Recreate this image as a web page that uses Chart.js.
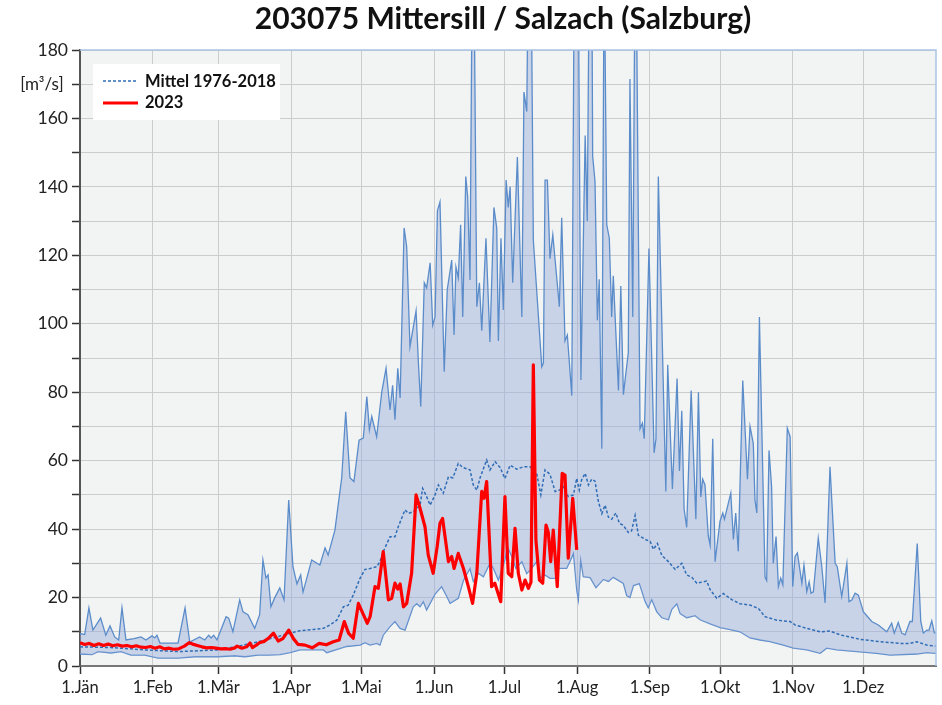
<!DOCTYPE html>
<html>
<head>
<meta charset="utf-8">
<script src="https://cdn.jsdelivr.net/npm/chart.js@4.4.1/dist/chart.umd.min.js"></script>
<style>
  html, body { margin: 0; background: #fff; }
</style>
</head>
<body>
<canvas id="chart" width="942" height="705"></canvas>
<script>
// day of year -> discharge [m3/s]
const monthDays = [0, 31, 59, 90, 120, 151, 181, 212, 243, 273, 304, 334]
const monthLabels = ['1.Jän', '1.Feb', '1.Mär', '1.Apr', '1.Mai', '1.Jun', '1.Jul', '1.Aug', '1.Sep', '1.Okt', '1.Nov', '1.Dez']

const maxQ = [
  [0,9.5],[2,9.2],[3.8,17],[5.5,10.5],[8.8,14],[11,9],[12.8,11.7],[14.8,8.5],[16.5,7.6],[17.9,17],[19.6,7.6],[23,8],
  [26,8.5],[28.1,7.6],[30.7,8.8],[31.9,8.2],[32.8,9],[34.1,6.7],[41.8,6.7],[44.8,17],[46.8,7],[51,8.5],[53.2,7.6],
  [54.9,9],[55.9,8.2],[57,9],[58.4,7.6],[62.3,14.4],[63.4,14],[65.2,10],[68.1,19.3],[69.5,15.8],[71.6,15],[74.5,11],
  [76.6,15],[78,31],[79.3,25.7],[80.2,26.6],[81.4,17.3],[83,19.9],[85.2,22.8],[87,19.3],[89,48.5],[90.8,29],[92.5,24],
  [94.1,26.6],[95.1,21.6],[98.8,31],[102.3,29.5],[104.5,34.5],[105.8,32.4],[108.7,39.7],[111.6,55],[113.3,74.3],
  [115.1,55],[116.8,53.9],[119,66],[120.8,66.6],[122.3,78.7],[123.4,69],[124.4,72.9],[126.5,67],[128.7,80.2],
  [130.5,87],[132.2,74.8],[133.3,82],[134.3,72],[135.5,87],[136.5,78.3],[138.2,128],[139.3,122.5],[140.7,93.3],
  [143.3,103.8],[144.3,88.5],[145.3,75.8],[146.8,112],[147.8,110.5],[149.3,117.8],[150.4,99.6],[151.4,102],
  [152.4,133],[153.5,135.6],[155.3,86],[156.6,110],[158.5,118.6],[159.5,96.7],[160.3,116.6],[161.3,113.4],
  [162.3,128.9],[163.2,102],[164.5,143],[165.3,137],[166.3,112.8],[167.3,210],[167.9,210],[169.2,105],[170.3,112],
  [171.3,98],[173.1,125],[174.8,94.7],[176.5,134],[177.7,128],[178.4,95],[179.5,125],[180.5,104],[181.7,142],
  [182.6,134],[183.4,140],[184.5,112],[186.5,148.7],[188.4,102],[189.3,167.7],[190.5,162],[191.2,210],[192.3,210],
  [193.3,124.5],[196.9,87.4],[197.6,88.5],[198.3,142],[199.3,142],[200.4,119],[201.6,126],[204.4,105],[205.4,131],
  [206.8,95],[207.8,96.7],[209.7,79],[210.8,210],[212.4,210],[213.6,83.6],[215.4,155],[216.3,130],[217.2,210],
  [218.2,210],[218.6,149],[219.6,141.6],[220.6,101],[221.4,113],[222.5,63.5],[223.5,210],[224.6,129],[225.7,125],
  [226.7,102],[227.4,114],[229.6,80.5],[230.6,111],[231.7,79.3],[233.8,91.6],[234.5,171.5],[235.7,102],[236.7,210],
  [237.1,210],[238.8,69.3],[239.8,71],[240.6,66.4],[242.6,122],[244.8,62.3],[245.6,66.4],[246.6,143],[249.8,51],
  [250.6,88],[252.6,51.7],[254.6,84],[255.6,57],[256.6,74.6],[257.6,45.8],[258.7,40.5],[260.6,80.5],[262.6,42.9],
  [263.7,80],[264.7,49.4],[265.5,54.6],[266.5,52.9],[267.9,38],[268.7,35.3],[269.8,66.4],[270.8,30.5],[272.9,42.3],
  [274.1,44.7],[274.8,42.9],[277.5,50.5],[278.6,37],[279.6,44.7],[280.7,33.5],[282.6,83.4],[284.6,54.6],[285.7,70],
  [287.1,65],[287.8,48.5],[288.6,44.7],[289.7,102],[292.1,26],[292.8,25],[293.8,63],[294.9,52.4],[295.6,30],
  [296.8,37.8],[297.8,23.2],[298.8,25.7],[299.7,23.7],[301.6,69.5],[302.8,67],[303.9,23.2],[304.9,32],[305.9,33],
  [307.8,24.2],[308.7,29.5],[309.9,21.7],[310.9,24.6],[311.7,21.3],[312.7,21.7],[314.8,37.4],[316.3,29],[317.7,18.4],
  [319.8,58.2],[322,30],[322.9,29],[324.8,20.3],[327,30],[327.9,18.8],[329.1,19.3],[330.5,21.3],[331.9,20.7],
  [334,15.9],[337.6,13],[340.4,12],[344,10],[346.1,12.5],[347.2,9.6],[348.9,12.7],[350.4,9.6],[351.8,9.1],[353.9,13],
  [354.9,13],[357,35.8],[358.5,13],[359.6,9.6],[361.1,10.5],[362,10.5],[363.2,13.2],[364.3,9.7],[365,9.7]
]

const minQ = [
  [0,3.5],[5.1,3.3],[7.7,4.2],[13.2,3.8],[17.5,4.2],[21.7,3.2],[27.6,3.2],[33.3,2.3],[41.8,2.3],[48.9,2.7],[58.8,2.7],
  [66,3],[70.2,2.7],[75.9,3.2],[80.2,3.2],[85.3,3.3],[89.6,3.9],[93.8,4.7],[103.8,4.7],[105.2,3.9],[113.7,5.7],
  [119.4,6.1],[121.5,6.8],[123.7,6.1],[126.5,6.6],[127.9,6.1],[129.3,9],[132.2,11.5],[134.3,13],[136.5,11],[138.6,10.5],
  [142.1,17.3],[143.6,18.2],[145,17.3],[146.4,18.8],[147.8,16.4],[149.3,18.3],[151.4,21],[154.2,23.2],[156.4,20.3],
  [157.8,18.3],[161.3,19.8],[163.5,25],[166.3,28.5],[167.7,24.7],[169.9,27.1],[172,26.1],[174.8,30],[176.3,28.5],
  [178.4,25.1],[181.2,31],[182.2,34.9],[184.1,32],[185.9,28.5],[188.4,30.5],[190.5,27],[191.9,28],[194.8,30.5],
  [196.2,25.6],[198.3,26.6],[200.4,25.6],[202.6,25.6],[204,28.5],[207.5,28.5],[208.9,30.5],[210.4,32.9],[211.8,22.2],
  [212.5,19.3],[213.5,31],[214.6,26.1],[217.5,25.8],[220,22.9],[223.2,25.3],[225.3,24.7],[227.4,25.9],[231.7,24.1],
  [233.1,20.6],[234.5,20],[236,23.5],[238.5,24.1],[241,18.8],[242.3,17],[243.8,19.4],[245.9,15.9],[248.1,14.1],
  [250.9,13.5],[252.3,16.5],[254.5,18.2],[255.9,15.3],[258.7,14.1],[262.3,14.7],[264.4,13.5],[268.7,12.3],[273,11.2],
  [277.2,10.6],[281.4,10],[285.7,8.2],[290,7.6],[294.2,7.1],[299.9,6.1],[304.2,5.2],[309.9,4.7],[315.6,3.7],
  [318.4,5.2],[322.7,4.7],[331.2,4.2],[339.7,3.7],[345.4,3.2],[356.8,3.5],[361.1,3.9],[365,3.7]
]

const meanQ = [
  [0,5.6],[13.2,5.4],[27.6,4.7],[41.8,4.2],[58.8,4.7],[66,5.6],[73,6.6],[78.8,7.6],[84.4,8.6],[89.6,9.6],[93.8,10.3],
  [99.5,10.7],[103.8,11],[106.6,12],[109.5,13.4],[112.3,17.3],[114.4,17.8],[116.5,20.7],[119.4,25.6],[121.5,28.2],
  [123.7,28.5],[126.5,29],[127.9,30.5],[129.3,33.4],[132.2,37.8],[134.3,37.8],[135.7,40.7],[138.6,45.6],[140,44.6],
  [142.1,45.1],[145,47],[146.1,51.9],[147.8,49.5],[149.3,47],[151.4,50],[152.8,52.9],[154.9,50.5],[157.1,55.3],
  [159,55],[161.3,59.2],[163.3,58],[166.3,57.3],[167.7,52.9],[169.2,51.4],[170.6,55],[173.4,60.2],[174.8,57.3],
  [177,59.7],[179.1,58],[181.2,54.8],[183.4,58.7],[186.2,57.5],[189,58.2],[191.9,58.2],[194.8,56],[196.5,50],
  [198.3,57.3],[200.4,56],[202.6,51],[204.7,51.5],[206.1,52.4],[208.2,49.5],[210.4,50],[211.8,54.8],[212.9,51.4],
  [213.9,54.4],[215.4,56.3],[216.8,52.9],[218.2,54.6],[219.6,54],[221,48.2],[222.5,44.5],[223.9,47],[225.3,43.5],
  [226.7,42.9],[228.5,44.7],[230,41.7],[231.7,41.1],[233.8,39],[235.2,39.5],[236.7,44],[238.1,38.2],[241,37],
  [243.1,36.4],[244.5,34.1],[246.2,35.8],[248.1,32.3],[250.9,30.5],[253.8,28.2],[256.6,30],[258.7,26.6],[260.9,25.9],
  [263,24.2],[267.2,24.8],[268.7,22.3],[271.5,19.8],[274.3,21.2],[277.9,19.4],[281.4,18.2],[285.7,17.8],[289.3,16.8],
  [292.1,14.4],[297.1,13.4],[302.8,13],[304.9,12],[309.9,11],[315.6,10],[319.8,10.2],[324.1,9.1],[332.6,7.8],
  [341.2,7.1],[349.7,6.6],[353.9,6.6],[356.8,7.1],[361.1,6.1],[365,5.8]
]

const q2023 = [
  [0,6.8],[2,6.3],[4,6.6],[6,6.0],[8,6.5],[10,6.0],[12,6.4],[14,5.9],[16,6.2],[18,5.8],[20,6.0],[22,5.6],[24,5.9],
  [26,5.5],[28,5.4],[30,5.7],[32,5.2],[34,5.6],[36,5.0],[38,5.2],[40,4.9],[42,5.0],[44.5,5.8],[46.5,6.8],[48,6.4],
  [50,6.0],[52,5.6],[54,5.3],[56,5.4],[58,5.2],[60,5.0],[62,5.1],[64,4.9],[66,5.3],[67,5.8],[69,5.2],[71,5.6],
  [72.5,6.7],[73.5,5.4],[75,6.0],[76.5,6.8],[78.5,7.2],[80.5,8.2],[82.5,9.6],[84.5,7.3],[86.5,8.0],[89,10.5],[91,8.0],
  [93,6.3],[96,6.1],[99,5.3],[102,6.6],[105,6.2],[108,7.1],[110.5,7.6],[112.7,13],[114.5,9.6],[116.5,8.1],[118.7,18.3],
  [120.6,15.4],[122.5,12.5],[123.7,14.4],[125.8,23.2],[127.2,22.7],[129.3,33.4],[131.5,19.3],[132.9,19.8],[134.3,24.2],
  [135.5,22.5],[136.5,24],[137.9,17.3],[139.3,18.3],[141.4,27.1],[143.3,50],[145,46.1],[147.1,40.7],[148.5,32.4],
  [150.6,27.1],[152.3,34.9],[153.5,41.7],[154.6,43.1],[157.1,30.5],[158.5,32],[159.5,28.5],[161.3,32.9],[163.5,28.5],
  [165.6,23.2],[167.4,18.3],[169.2,27.1],[171.3,51],[172.3,49],[173.4,53.9],[175.5,23.2],[176.9,24.2],[179.4,18.8],
  [181.2,49.5],[182.6,27.1],[184.1,26.1],[185.5,40.2],[186.9,27.1],[188.4,22.2],[189.8,25.1],[191.2,22.7],[192.3,24.5],
  [193.3,88],[194.4,36.8],[195.9,25.1],[197.3,24.2],[198.7,41.2],[199.7,39],[200.7,30.5],[201.8,39.7],[203.5,23.2],
  [205.6,56.3],[206.8,55.8],[208.2,31.5],[210.1,49],[211.8,33.9]
]

const yTickLabels = { 170: '[m³/s] ' }

const toPoints = arr => arr.map(p => ({ x: p[0], y: p[1] }))

Chart.defaults.font.family = 'Lato, "Open Sans", sans-serif'
Chart.defaults.color = '#222'

const plotBg = {
  id: 'plotBg',
  beforeDraw(chart) {
    const { ctx, chartArea: a } = chart
    ctx.save()
    ctx.fillStyle = '#f2f4f3'
    ctx.fillRect(a.left, a.top, a.right - a.left, a.bottom - a.top)
    ctx.restore()
  }
}

const extras = {
  id: 'extras',
  afterDraw(chart) {
    const { ctx, chartArea: a } = chart
    ctx.save()
    // top and right edge
    ctx.strokeStyle = '#a9c3e6'
    ctx.lineWidth = 1.5
    ctx.beginPath()
    ctx.moveTo(a.left, a.top)
    ctx.lineTo(a.right, a.top)
    ctx.lineTo(a.right, a.bottom)
    ctx.stroke()

    // title
    ctx.fillStyle = '#111'
    ctx.font = 'bold 30px Lato, "Open Sans", sans-serif'
    ctx.textAlign = 'center'
    ctx.textBaseline = 'middle'
    ctx.fillText('203075 Mittersill / Salzach (Salzburg)', 503, 19)

    // legend box
    ctx.fillStyle = '#fff'
    ctx.fillRect(93, 64, 187, 56)
    ctx.strokeStyle = '#2f6db5'
    ctx.lineWidth = 1.5
    ctx.setLineDash([3, 2])
    ctx.beginPath()
    ctx.moveTo(103, 81)
    ctx.lineTo(138, 81)
    ctx.stroke()
    ctx.setLineDash([])
    ctx.strokeStyle = '#ff0000'
    ctx.lineWidth = 3
    ctx.beginPath()
    ctx.moveTo(103, 103)
    ctx.lineTo(138, 103)
    ctx.stroke()
    ctx.fillStyle = '#111'
    ctx.font = 'bold 16.5px Lato, "Open Sans", sans-serif'
    ctx.textAlign = 'left'
    ctx.fillText('Mittel 1976-2018', 145, 82)
    ctx.fillText('2023', 145, 103)
    ctx.restore()
  }
}

new Chart(document.getElementById('chart'), {
  type: 'line',
  data: {
    datasets: [
      {
        label: '2023',
        data: toPoints(q2023),
        borderColor: '#ff0000',
        borderWidth: 3.2,
        borderJoinStyle: 'round',
        pointRadius: 0,
        fill: false
      },
      {
        label: 'Mittel 1976-2018',
        data: toPoints(meanQ),
        borderColor: '#2f6db5',
        borderWidth: 1.5,
        borderDash: [3, 2],
        pointRadius: 0,
        fill: false
      },
      {
        label: 'Max',
        data: toPoints(maxQ),
        borderColor: '#5b8cca',
        borderWidth: 1.3,
        backgroundColor: 'rgba(150, 170, 220, 0.45)',
        pointRadius: 0,
        fill: 3
      },
      {
        label: 'Min',
        data: toPoints(minQ),
        borderColor: '#5b8cca',
        borderWidth: 1.3,
        pointRadius: 0,
        fill: false
      }
    ]
  },
  options: {
    responsive: false,
    animation: false,
    layout: { padding: { top: 50, right: 6, left: 0, bottom: 0 } },
    plugins: {
      legend: { display: false },
      tooltip: { enabled: false },
      title: { display: false }
    },
    scales: {
      x: {
        type: 'linear',
        min: 0,
        max: 365,
        afterBuildTicks: scale => { scale.ticks = monthDays.map(v => ({ value: v })) },
        afterFit: scale => { scale.height = 39 },
        ticks: {
          autoSkip: false,
          maxRotation: 0,
          padding: 4,
          font: { size: 16.5 },
          callback: (v, i) => monthLabels[i]
        },
        grid: {
          color: '#cccccc',
          lineWidth: 1,
          tickLength: 8,
          tickColor: '#333',
          tickWidth: 1.5
        },
        border: { color: '#777', width: 2 }
      },
      y: {
        min: 0,
        max: 180,
        afterFit: scale => { scale.width = 80 },
        ticks: {
          stepSize: 10,
          padding: 4,
          font: ctx => ({ size: ctx.tick && ctx.tick.value === 170 ? 17 : 17.5 }),
          callback: v => yTickLabels[v] || (v % 20 === 0 ? v : '')
        },
        grid: {
          color: '#cccccc',
          lineWidth: 1,
          tickLength: 8,
          tickColor: '#333',
          tickWidth: 1.5
        },
        border: { color: '#555', width: 2 }
      }
    }
  },
  plugins: [plotBg, extras]
})
</script>
</body>
</html>
